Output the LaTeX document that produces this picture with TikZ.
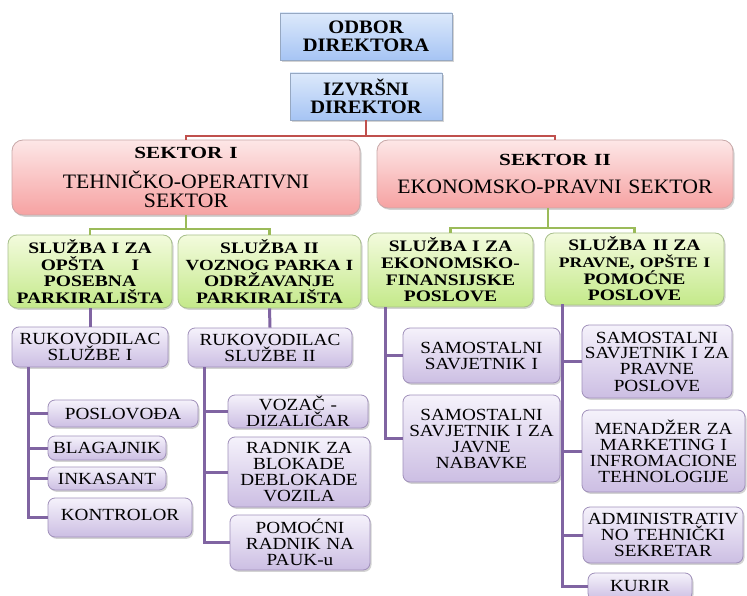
\documentclass[tikz,border=0pt]{standalone}
\usepackage{fontspec}
\setmainfont{Liberation Serif}
\newfontfamily\wideb[FakeStretch=1.25]{Liberation Serif}
\newfontfamily\blueb[FakeStretch=1.08]{Liberation Serif}
\newfontfamily\secf[FakeStretch=1.06]{Liberation Serif}
\newfontfamily\greenf[FakeStretch=1.22]{Liberation Serif}
\newfontfamily\purpf[FakeStretch=1.13]{Liberation Serif}
\usetikzlibrary{shadows}
\definecolor{bluetop}{HTML}{DCE9FB}
\definecolor{bluebot}{HTML}{A6C4F4}
\definecolor{blueedge}{HTML}{96A8C2}
\definecolor{redtop}{HTML}{FDE7E7}
\definecolor{redbot}{HTML}{F6A2A2}
\definecolor{rededge}{HTML}{C8A8A8}
\definecolor{greentop}{HTML}{F3FBDD}
\definecolor{greenbot}{HTML}{C4E98A}
\definecolor{greenedge}{HTML}{A8BF8C}
\definecolor{purptop}{HTML}{F5F2FB}
\definecolor{purpbot}{HTML}{CCBEE3}
\definecolor{purpedge}{HTML}{A090BA}
\definecolor{redline}{HTML}{C0504D}
\definecolor{greenline}{HTML}{9BBB59}
\definecolor{purpline}{HTML}{8064A2}
\tikzset{
  base/.style={align=center, inner sep=0pt, line width=0.8pt,
    drop shadow={shadow xshift=1.5pt, shadow yshift=-1.8pt, opacity=0.35}},
  bluebox/.style={base, draw=blueedge, top color=bluetop, bottom color=bluebot,
    font=\blueb\bfseries\fontsize{19}{18}\selectfont},
  redbox/.style={base, draw=rededge, top color=redtop, bottom color=redbot,
    rounded corners=11pt, font=\secf\fontsize{20.5}{19.5}\selectfont},
  greenbox/.style={base, draw=greenedge, top color=greentop, bottom color=greenbot,
    rounded corners=9pt, font=\greenf\bfseries\fontsize{16}{16.7}\selectfont},
  purpbox/.style={base, draw=purpedge, top color=purptop, bottom color=purpbot,
    rounded corners=7pt, font=\purpf\fontsize{17}{16}\selectfont},
  rline/.style={draw=redline, line width=2.6pt},
  gline/.style={draw=greenline, line width=2.6pt},
  pline/.style={draw=purpline, line width=3pt},
}
\newcommand{\hdr}{\wideb\bfseries\fontsize{17}{18}\selectfont}
\begin{document}
\begin{tikzpicture}[x=1pt,y=-1pt]
\useasboundingbox (0,0) rectangle (747,596);
% top
\node[bluebox, minimum width=172, minimum height=47, text width=170] (odbor) at (366,36.5) {ODBOR\\DIREKTORA};
\node[bluebox, minimum width=152, minimum height=47, text width=150] (izv) at (366,96.5) {IZVRŠNI\\DIREKTOR};
% sectors
\node[redbox, minimum width=348, minimum height=75, text width=340] (s1) at (186,177.5)
  {{\hdr SEKTOR I}\\[10pt]TEHNIČKO-OPERATIVNI\\SEKTOR};
\node[redbox, minimum width=356, minimum height=68, text width=350] (s2) at (555,174)
  {{\hdr SEKTOR II}\\[8pt]EKONOMSKO-PRAVNI SEKTOR};
% services
\node[greenbox, minimum width=164, minimum height=73, text width=164] (g1) at (90,271.5)
  {SLUŽBA I ZA\\OPŠTA\hspace{1.7em}I\\POSEBNA\\PARKIRALIŠTA};
\node[greenbox, minimum width=183, minimum height=73, text width=183] (g2) at (269.5,271.5)
  {SLUŽBA II\\{\fontsize{15.5}{16.7}\selectfont VOZNOG PARKA I}\\ODRŽAVANJE\\PARKIRALIŠTA};
\node[greenbox, minimum width=165, minimum height=74, text width=165] (g3) at (450.5,270)
  {SLUŽBA I ZA\\EKONOMSKO-\\FINANSIJSKE\\POSLOVE};
\node[greenbox, minimum width=179, minimum height=72, text width=179] (g4) at (634.5,269)
  {SLUŽBA\hspace{0.4em}II ZA\\{\fontsize{14.5}{16.7}\selectfont PRAVNE, OPŠTE I}\\POMOĆNE\\POSLOVE};
% heads
\node[purpbox, minimum width=156, minimum height=40, text width=156] (p1) at (90,347) {RUKOVODILAC\\SLUŽBE I};
\node[purpbox, minimum width=164, minimum height=39, text width=164] (p2) at (270,347.5) {RUKOVODILAC\\SLUŽBE II};
% left staff
\node[purpbox, minimum width=150, minimum height=27, text width=150] (posl) at (123,413.5) {POSLOVOĐA};
\node[purpbox, minimum width=118, minimum height=24, text width=118] (blag) at (107,448) {BLAGAJNIK};
\node[purpbox, minimum width=118, minimum height=23, text width=118] (inka) at (107,478.5) {INKASANT};
\node[purpbox, minimum width=144, minimum height=39, text width=144] (kont) at (120,517.5) {\raisebox{5pt}{KONTROLOR}};
\node[purpbox, minimum width=140, minimum height=33, text width=140] (voz) at (298,411.5) {VOZAČ -\\DIZALIČAR};
\node[purpbox, minimum width=142, minimum height=70, text width=142] (radn) at (299,472) {RADNIK ZA\\BLOKADE\\DEBLOKADE\\VOZILA};
\node[purpbox, minimum width=140, minimum height=55, text width=140] (pom) at (300,542.5) {POMOĆNI\\RADNIK NA\\PAUK-u};
% right staff
\node[purpbox, minimum width=157, minimum height=55, text width=157] (sam1) at (481.5,355.5) {SAMOSTALNI\\SAVJETNIK I};
\node[purpbox, minimum width=157, minimum height=87, text width=157] (samjn) at (481.5,438.5) {SAMOSTALNI\\SAVJETNIK I ZA\\JAVNE\\NABAVKE\\[12pt]};
\node[purpbox, minimum width=150, minimum height=73, text width=150] (sampp) at (657,361.5) {SAMOSTALNI\\SAVJETNIK I ZA\\PRAVNE\\POSLOVE};
\node[purpbox, minimum width=163, minimum height=82, text width=163] (men) at (663.5,451) {MENADŽER ZA\\MARKETING I\\INFROMACIONE\\TEHNOLOGIJE};
\node[purpbox, minimum width=160, minimum height=56, text width=160] (adm) at (663,535) {ADMINISTRATIV\\NO TEHNIČKI\\SEKRETAR};
\node[purpbox, minimum width=104, minimum height=27, text width=104] (kur) at (640,586.5) {KURIR};
% connector junctions
\coordinate (rj) at (366,136);
\coordinate (gj1) at (186,229);
\coordinate (gj2) at (548,228);
\coordinate (t1) at (28,367);
\coordinate (t2) at (204,367);
\coordinate (t3) at (385,307);
\coordinate (t4) at (562,304);
% red
\draw[rline] (izv.south) -- (rj);
\draw[rline] (rj) -| (s1.north);
\draw[rline] (rj) -| (s2.north);
% green
\draw[gline] (s1.south) -- (gj1);
\draw[gline] (gj1) -| (g1.north);
\draw[gline] (gj1) -| (g2.north);
\draw[gline] (gj2 |- s2.south) -- (gj2);
\draw[gline] (gj2) -| (g3.north);
\draw[gline] (gj2) -| (g4.north);
% purple
\draw[pline] (g1.south) -- (p1.north);
\draw[pline] (g2.south) -- (p2.north);
\draw[pline] (t1) |- (posl.west);
\draw[pline] (t1) |- (blag.west);
\draw[pline] (t1) |- (inka.west);
\draw[pline] (t1) |- (kont.west);
\draw[pline] (t2) |- (voz.west);
\draw[pline] (t2) |- (radn.west);
\draw[pline] (t2) |- (pom.west);
\draw[pline] (t3) |- (sam1.west);
\draw[pline] (t3) |- (samjn.west);
\draw[pline] (t4) |- (sampp.west);
\draw[pline] (t4) |- (men.west);
\draw[pline] (t4) |- (adm.west);
\draw[pline] (t4) |- (kur.west);
\end{tikzpicture}
\end{document}
